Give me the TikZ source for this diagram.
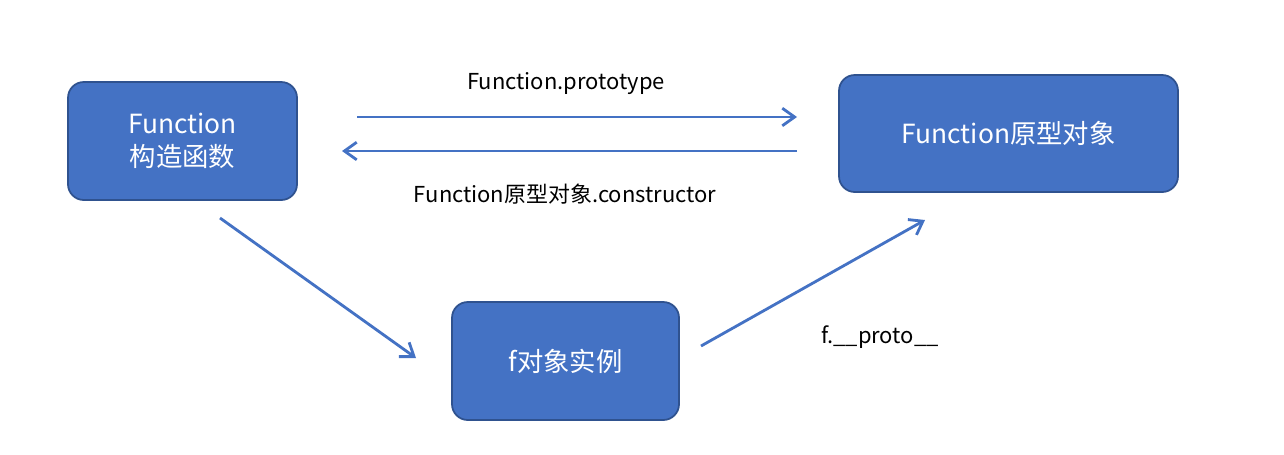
\documentclass[tikz,border=0pt]{standalone}
\usepackage{fontspec}
\setmainfont{Noto Sans CJK SC}
\usetikzlibrary{arrows.meta}
\definecolor{boxfill}{HTML}{4472C4}
\definecolor{boxline}{HTML}{2F528F}
\begin{document}
\begin{tikzpicture}[x=0.02cm,y=-0.02cm,
  box/.style={draw=boxline,line width=1pt,fill=boxfill,rounded corners=9pt,text=white,font=\fontsize{15}{19}\selectfont,align=center,inner sep=0pt},
  arr/.style={draw=boxfill,line width=1.6pt,-{Straight Barb[length=7pt,width=10pt]}},
  lab/.style={font=\fontsize{12.5}{15}\selectfont,text=black,inner sep=0pt}]
\useasboundingbox (0,0) rectangle (1284,454);
\node[box,minimum width=229*0.02cm,minimum height=118*0.02cm] (L) at (182.5,141) {Function\\构造函数};
\node[box,minimum width=339*0.02cm,minimum height=117*0.02cm] (R) at (1008.5,133.5) {Function原型对象};
\node[box,minimum width=227*0.02cm,minimum height=118*0.02cm] (B) at (565.5,361) {f对象实例};
\coordinate (a1) at (357,117); \coordinate (a2) at (797,117);
\coordinate (b1) at (797,151); \coordinate (b2) at (342,151);
\coordinate (c1) at (220,218); \coordinate (c2) at (416,358);
\coordinate (d1) at (701,346); \coordinate (d2) at (925,220);
\draw[arr] (a1) -- (a2);
\draw[arr] (b1) -- (b2);
\draw[arr] (c1) -- (c2);
\draw[arr] (d1) -- (d2);
\node[lab] (t1) at (566,84) {Function.prototype};
\node[lab] (t2) at (565,194) {Function原型对象.constructor};
\node[lab] (t3) at (880,337) {f.\_\_proto\_\_};
\end{tikzpicture}
\end{document}
